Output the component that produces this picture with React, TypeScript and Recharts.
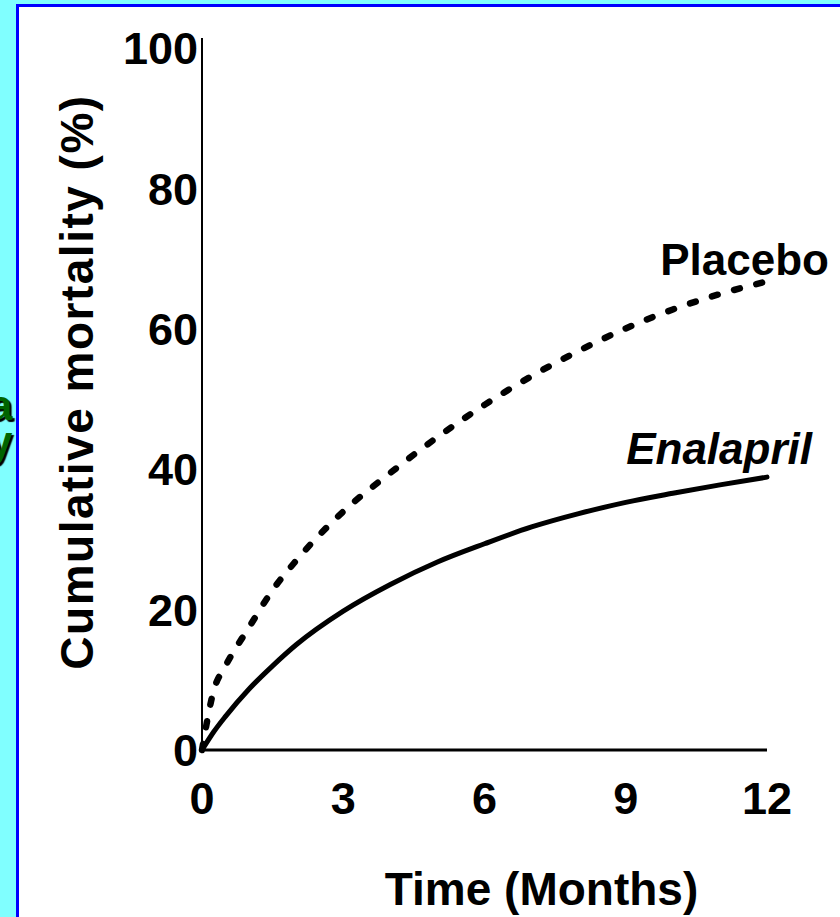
import React from "react";
import { LineChart, Line, XAxis, YAxis, LabelList } from "recharts";

// Cumulative mortality (%), months 0–12
const months = [0, 0.25, 0.5, 1, 1.5, 2, 3, 4, 5, 6, 7, 8, 9, 10, 11, 12];
const placebo = [0, 8.5, 12, 17.5, 22.8, 27, 34, 39.5, 44.6, 49.2, 53.3, 56.9, 60.1, 62.8, 65, 66.8];
const enalapril = [0, 2.6, 4.8, 8.7, 12, 15, 19.8, 23.6, 26.8, 29.4, 31.8, 33.7, 35.3, 36.6, 37.8, 38.9];

const xTicks = [0, 3, 6, 9, 12];
const yTicks = [0, 20, 40, 60, 80, 100];

const FONT = "'Liberation Sans', Arial, Helvetica, sans-serif";

const data = months.map((m, i) => ({
  month: m,
  placebo: placebo[i],
  enalapril: enalapril[i],
}));

const lastIndex = months.length - 1;

function EndLabel(props: any) {
  const { x, y, index, value, text, dx, dy, italic } = props;
  if (index !== lastIndex || value == null) return null;
  return (
    <text
      x={x + dx}
      y={y + dy}
      textAnchor="end"
      fontFamily={FONT}
      fontWeight="bold"
      fontStyle={italic ? "italic" : "normal"}
      fontSize={44}
      fill="#000"
    >
      {text}
    </text>
  );
}

export default function App() {
  return (
    <div
      style={{
        position: "relative",
        width: 840,
        height: 917,
        overflow: "hidden",
        background: "#80ffff",
      }}
    >
      <style>{"body{margin:0}"}</style>
      {/* slide text clipped by the white panel */}
      <div
        style={{
          position: "absolute",
          left: -11,
          top: 388,
          fontFamily: FONT,
          fontWeight: "bold",
          fontSize: 42,
          lineHeight: "36px",
          color: "#006400",
          textShadow: "2px 2px 1px #000",
        }}
      >
        <div>a</div>
        <div>y</div>
      </div>
      <div
        style={{
          position: "absolute",
          left: 16,
          top: 4,
          width: 840,
          height: 930,
          background: "#fff",
          borderLeft: "3px solid #0000ff",
          borderTop: "3px solid #0000ff",
        }}
      />
      <div style={{ position: "absolute", left: 0, top: 0 }}>
        <LineChart
          width={840}
          height={917}
          data={data}
          margin={{ top: 38, right: 73, left: 0, bottom: 0 }}
        >
          <XAxis
            dataKey="month"
            type="number"
            domain={[0, 12]}
            ticks={xTicks}
            height={167}
            tickLine={false}
            tickSize={0}
            tickMargin={32}
            axisLine={{ stroke: "#000", strokeWidth: 3 }}
            tick={{ fontFamily: FONT, fontWeight: "bold", fontSize: 45, fill: "#000" }}
            label={{
              content: ({ viewBox }: any) => (
                <text
                  x={viewBox.x + viewBox.width / 2 + 57}
                  y={viewBox.y + 155}
                  textAnchor="middle"
                  fontFamily={FONT}
                  fontWeight="bold"
                  fontSize={46}
                  fill="#000"
                >
                  Time (Months)
                </text>
              ),
            }}
          />
          <YAxis
            type="number"
            domain={[0, 101.5]}
            ticks={yTicks}
            width={202}
            tickLine={false}
            tickSize={0}
            tickMargin={4}
            axisLine={{ stroke: "#000", strokeWidth: 2 }}
            tick={{ fontFamily: FONT, fontWeight: "bold", fontSize: 45, fill: "#000" }}
            label={{
              content: ({ viewBox }: any) => {
                const cx = viewBox.x + 93;
                const cy = viewBox.y + viewBox.height / 2 - 12;
                return (
                  <text
                    x={cx}
                    y={cy}
                    transform={`rotate(-90 ${cx} ${cy})`}
                    textAnchor="middle"
                    fontFamily={FONT}
                    fontWeight="bold"
                    fontSize={46}
                    letterSpacing={1.5}
                    fill="#000"
                  >
                    Cumulative mortality (%)
                  </text>
                );
              },
            }}
          />
          <Line
            type="monotone"
            dataKey="placebo"
            stroke="#000"
            strokeWidth={6.5}
            strokeDasharray="6 17"
            strokeLinecap="round"
            dot={false}
            isAnimationActive={false}
          >
            <LabelList
              dataKey="placebo"
              content={(p: any) => <EndLabel {...p} text="Placebo" dx={62} dy={-6} />}
            />
          </Line>
          <Line
            type="monotone"
            dataKey="enalapril"
            stroke="#000"
            strokeWidth={5}
            strokeLinecap="round"
            dot={false}
            isAnimationActive={false}
          >
            <LabelList
              dataKey="enalapril"
              content={(p: any) => <EndLabel {...p} text="Enalapril" dx={45} dy={-13} italic />}
            />
          </Line>
        </LineChart>
      </div>
    </div>
  );
}
